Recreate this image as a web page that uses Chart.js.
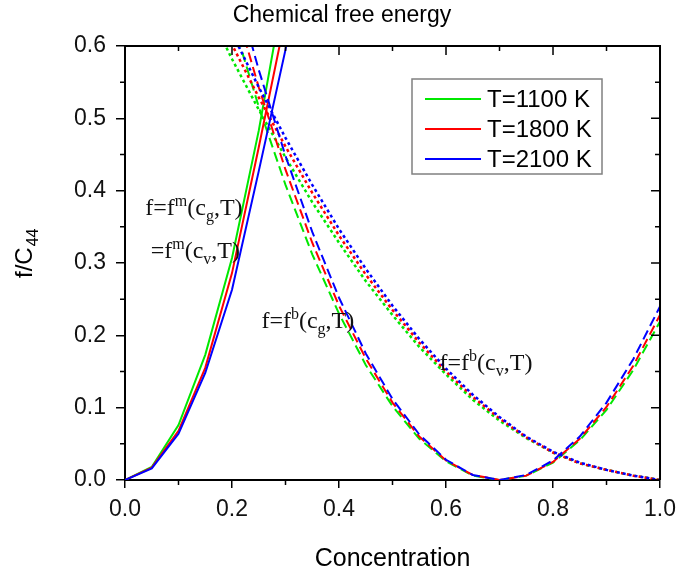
<!DOCTYPE html>
<html>
<head>
<meta charset="utf-8">
<title>Chemical free energy</title>
<script src="https://cdn.jsdelivr.net/npm/chart.js@4.4.1/dist/chart.umd.min.js"></script>
<style>
  html, body { margin: 0; padding: 0; background: #fff; }
</style>
</head>
<body>
<canvas id="energyChart" width="684" height="571"></canvas>
<script>
// concentration grid shared by all curves
var conc = [0, 0.05, 0.1, 0.15, 0.2, 0.25, 0.3, 0.35, 0.4, 0.45, 0.5,
            0.55, 0.6, 0.65, 0.7, 0.75, 0.8, 0.85, 0.9, 0.95, 1.0];

var temps = ['T=1100 K', 'T=1800 K', 'T=2100 K'];
var colors = ['#00e800', '#ff0000', '#0000ff'];

// f^m(c,T) - solid
var fm1100 = [0, 0.018, 0.076, 0.173, 0.307, 0.483, 0.69, 0.93];
var fm1800 = [0, 0.017, 0.068, 0.155, 0.286, 0.46, 0.64, 0.85];
var fm2100 = [0, 0.016, 0.064, 0.148, 0.263, 0.427, 0.595, 0.80];

// f^b(c_g,T) - dashed, from c = 0.15
var fbg1100 = [null, null, null, 0.771, 0.638, 0.516, 0.408, 0.312, 0.230, 0.159, 0.102,
               0.057, 0.026, 0.006, 0, 0.006, 0.024, 0.055, 0.097, 0.152, 0.219];
var fbg1800 = [null, null, null, 0.811, 0.670, 0.543, 0.429, 0.328, 0.241, 0.168, 0.107,
               0.060, 0.027, 0.007, 0, 0.006, 0.025, 0.057, 0.101, 0.158, 0.228];
var fbg2100 = [null, null, null, 0.847, 0.700, 0.567, 0.448, 0.343, 0.252, 0.175, 0.112,
               0.063, 0.028, 0.007, 0, 0.007, 0.027, 0.060, 0.107, 0.167, 0.240];

// f^b(c_v,T) - dotted, from c = 0.15
var fbv1100 = [null, null, null, 0.657, 0.582, 0.512, 0.446, 0.384, 0.328, 0.275, 0.228,
               0.184, 0.146, 0.111, 0.082, 0.058, 0.038, 0.023, 0.014, 0.006, 0];
var fbv1800 = [null, null, null, 0.679, 0.602, 0.529, 0.461, 0.397, 0.338, 0.284, 0.235,
               0.190, 0.150, 0.115, 0.085, 0.059, 0.038, 0.023, 0.014, 0.006, 0];
var fbv2100 = [null, null, null, 0.697, 0.618, 0.543, 0.473, 0.408, 0.347, 0.292, 0.241,
               0.195, 0.154, 0.118, 0.087, 0.060, 0.039, 0.024, 0.014, 0.006, 0];

var xTicks = [0, 0.2, 0.4, 0.6, 0.8, 1.0];
var xMinor = [0.1, 0.3, 0.5, 0.7, 0.9];
var yTicks = [0, 0.1, 0.2, 0.3, 0.4, 0.5, 0.6];
var yMinor = [0.05, 0.15, 0.25, 0.35, 0.45, 0.55];

// curve labels, placed in data units
var notes = [
  { c: 0.038, f: 0.366, parts: [['f=f'], ['m', 'sup'], ['(c'], ['g', 'sub'], [',T)']] },
  { c: 0.048, f: 0.307, parts: [['=f'], ['m', 'sup'], ['(c'], ['v', 'sub'], [',T)']] },
  { c: 0.255, f: 0.210, parts: [['f=f'], ['b', 'sup'], ['(c'], ['g', 'sub'], [',T)']] },
  { c: 0.588, f: 0.152, parts: [['f=f'], ['b', 'sup'], ['(c'], ['v', 'sub'], [',T)']] }
];

var SANS = '"Liberation Sans", Arial, sans-serif';
var SERIF = '"Liberation Serif", "Times New Roman", serif';

function pts(vals) {
  var out = [];
  for (var i = 0; i < conc.length; i++) {
    if (vals[i] !== null && vals[i] !== undefined) out.push({ x: conc[i], y: vals[i] });
  }
  return out;
}

var families = [
  { series: [fm1100, fm1800, fm2100], dash: [], width: 2 },
  { series: [fbg1100, fbg1800, fbg2100], dash: [10, 5], width: 2 },
  { series: [fbv1100, fbv1800, fbv2100], dash: [3, 3], width: 2.5 }
];

var datasets = [];
families.forEach(function (fam) {
  fam.series.forEach(function (vals, t) {
    datasets.push({
      label: temps[t],
      data: pts(vals),
      borderColor: colors[t],
      borderWidth: fam.width,
      borderDash: fam.dash,
      pointRadius: 0,
      tension: 0,
      fill: false,
      order: 2 - t
    });
  });
});

function drawRich(ctx, parts, x, y, size) {
  var small = Math.round(size * 0.67);
  ctx.textBaseline = 'alphabetic';
  ctx.textAlign = 'left';
  parts.forEach(function (p) {
    var dy = 0, fs = size;
    if (p[1] === 'sup') { fs = small; dy = -9; }
    if (p[1] === 'sub') { fs = small; dy = 6; }
    ctx.font = fs + 'px ' + SERIF;
    ctx.fillText(p[0], x, y + dy);
    x += ctx.measureText(p[0]).width;
  });
}

var decorations = {
  id: 'decorations',
  afterDraw: function (chart) {
    var ctx = chart.ctx, a = chart.chartArea;
    var xs = chart.scales.x, ys = chart.scales.y;
    ctx.save();

    // close the frame on top and right
    ctx.strokeStyle = '#000';
    ctx.lineWidth = 2;
    ctx.beginPath();
    ctx.moveTo(a.left, a.top);
    ctx.lineTo(a.right, a.top);
    ctx.lineTo(a.right, a.bottom);
    ctx.stroke();

    // minor ticks outside, mirrored ticks inside on top/right
    ctx.lineWidth = 1.5;
    ctx.beginPath();
    xMinor.forEach(function (v) {
      var p = xs.getPixelForValue(v);
      ctx.moveTo(p, a.bottom); ctx.lineTo(p, a.bottom + 5);
      ctx.moveTo(p, a.top); ctx.lineTo(p, a.top + 5);
    });
    xTicks.forEach(function (v) {
      var p = xs.getPixelForValue(v);
      ctx.moveTo(p, a.top); ctx.lineTo(p, a.top + 9);
    });
    yMinor.forEach(function (v) {
      var p = ys.getPixelForValue(v);
      ctx.moveTo(a.left, p); ctx.lineTo(a.left - 5, p);
      ctx.moveTo(a.right, p); ctx.lineTo(a.right - 5, p);
    });
    yTicks.forEach(function (v) {
      var p = ys.getPixelForValue(v);
      ctx.moveTo(a.right, p); ctx.lineTo(a.right - 9, p);
    });
    ctx.stroke();

    // legend box
    var lx = 412, ly = 79, lw = 190, lh = 95;
    ctx.fillStyle = '#fff';
    ctx.fillRect(lx, ly, lw, lh);
    ctx.strokeStyle = '#808080';
    ctx.lineWidth = 1.5;
    ctx.strokeRect(lx, ly, lw, lh);
    ctx.font = '24px ' + SANS;
    ctx.textBaseline = 'middle';
    ctx.textAlign = 'left';
    temps.forEach(function (t, i) {
      var yy = ly + 20 + i * 30;
      ctx.strokeStyle = colors[i];
      ctx.lineWidth = 2;
      ctx.beginPath();
      ctx.moveTo(lx + 13, yy);
      ctx.lineTo(lx + 69, yy);
      ctx.stroke();
      ctx.fillStyle = '#000';
      ctx.fillText(t, lx + 75, yy + 1);
    });

    // curve labels
    ctx.fillStyle = '#111';
    notes.forEach(function (n) {
      drawRich(ctx, n.parts, xs.getPixelForValue(n.c), ys.getPixelForValue(n.f), 24);
    });

    // title and axis titles
    ctx.fillStyle = '#000';
    ctx.textAlign = 'center';
    ctx.textBaseline = 'alphabetic';
    ctx.font = '23px ' + SANS;
    ctx.fillText('Chemical free energy', 342, 22);
    ctx.font = '25px ' + SANS;
    ctx.fillText('Concentration', (a.left + a.right) / 2, 566);

    ctx.translate(32, 278);
    ctx.rotate(-Math.PI / 2);
    ctx.textAlign = 'left';
    ctx.font = '24px ' + SANS;
    ctx.fillText('f/C', 0, 0);
    var w = ctx.measureText('f/C').width;
    ctx.font = '16px ' + SANS;
    ctx.fillText('44', w + 1, 6);
    ctx.restore();
  }
};

new Chart(document.getElementById('energyChart'), {
  type: 'line',
  data: { datasets: datasets },
  options: {
    responsive: false,
    animation: false,
    events: [],
    layout: { padding: { top: 46, right: 19, left: 0, bottom: 0 } },
    plugins: {
      legend: { display: false },
      title: { display: false },
      tooltip: { enabled: false }
    },
    scales: {
      x: {
        type: 'linear',
        min: 0,
        max: 1,
        afterBuildTicks: function (s) { s.ticks = xTicks.map(function (v) { return { value: v }; }); },
        afterFit: function (s) { s.height = 91; },
        border: { color: '#000', width: 2 },
        grid: { drawOnChartArea: false, tickLength: 8, color: '#000', lineWidth: 1.5 },
        ticks: {
          color: '#111',
          padding: 8,
          maxRotation: 0,
          autoSkip: false,
          font: { family: SANS, size: 23 },
          callback: function (v) { return v.toFixed(1); }
        }
      },
      y: {
        type: 'linear',
        min: 0,
        max: 0.6,
        afterBuildTicks: function (s) { s.ticks = yTicks.map(function (v) { return { value: v }; }); },
        afterFit: function (s) { s.width = 125; },
        border: { color: '#000', width: 2 },
        grid: { drawOnChartArea: false, tickLength: 9, color: '#000', lineWidth: 1.5 },
        ticks: {
          color: '#111',
          padding: 10,
          autoSkip: false,
          font: { family: SANS, size: 23 },
          callback: function (v) { return v.toFixed(1); }
        }
      }
    }
  },
  plugins: [decorations]
});
</script>
</body>
</html>
